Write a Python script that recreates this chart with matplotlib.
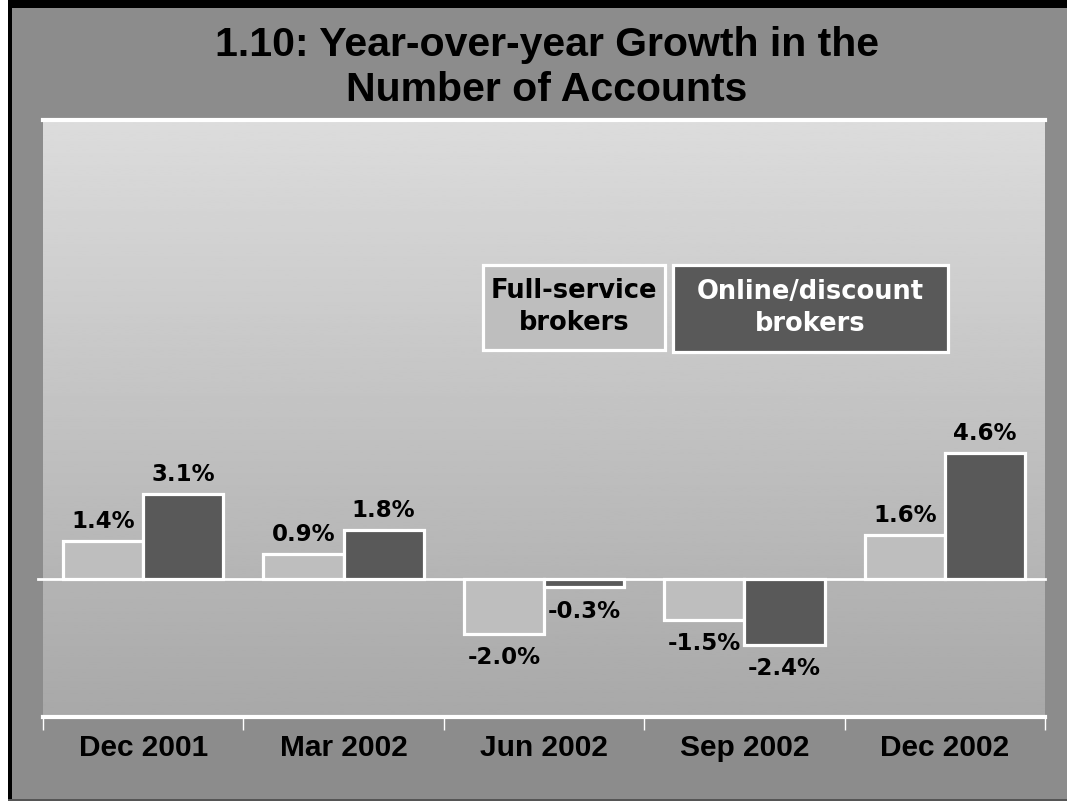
import numpy as np
import matplotlib
matplotlib.use("Agg")
import matplotlib.pyplot as plt
from matplotlib.patches import Rectangle

# quarterly year-over-year growth in account numbers (%)
quarters = ["Dec 2001", "Mar 2002", "Jun 2002", "Sep 2002", "Dec 2002"]
full_service = [1.4, 0.9, -2.0, -1.5, 1.6]
online_discount = [3.1, 1.8, -0.3, -2.4, 4.6]
series_names = ["Full-service\nbrokers", "Online/discount\nbrokers"]
title_lines = ["1.10: Year-over-year Growth in the", "Number of Accounts"]

BG = "#8c8c8c"
LIGHT = "#bebebe"
DARK = "#595959"
NARROW = ["Liberation Sans", "DejaVu Sans"]
WIDE = ["DejaVu Sans"]

W, H = 1067, 801
fig = plt.figure(figsize=(W / 100, H / 100), dpi=100, facecolor=BG)

# frame around the slide
fig.patches.append(Rectangle((0, 0), 8 / W, 1, transform=fig.transFigure,
                             facecolor="white", edgecolor="none", zorder=0))
fig.patches.append(Rectangle((8 / W, 0), 4 / W, 1, transform=fig.transFigure,
                             facecolor="black", edgecolor="none", zorder=0))
fig.patches.append(Rectangle((8 / W, 1 - 8 / H), 1, 8 / H, transform=fig.transFigure,
                             facecolor="black", edgecolor="none", zorder=0))
fig.patches.append(Rectangle((8 / W, 0), 1, 2 / H, transform=fig.transFigure,
                             facecolor="#555555", edgecolor="none", zorder=0))

fig.text(547 / W, 1 - 45 / H, title_lines[0], ha="center", va="center",
         fontsize=29.5, fontweight="bold", family=NARROW)
fig.text(547 / W, 1 - 90 / H, title_lines[1], ha="center", va="center",
         fontsize=29.5, fontweight="bold", family=NARROW)

ax = fig.add_axes([43 / W, 84 / H, (1045 - 43) / W, (717 - 120) / H])
ymin, ymax = -5.05, 16.8
ax.set_xlim(-0.5, len(quarters) - 0.5)
ax.set_ylim(ymin, ymax)

# vertical grey gradient behind the bars
grad = np.linspace(0.863, 0.66, 256).reshape(-1, 1)
ax.imshow(grad, cmap="gray", vmin=0, vmax=1, aspect="auto",
          extent=(-0.5, len(quarters) - 0.5, ymin, ymax), origin="upper", zorder=0)

x = np.arange(len(quarters))
w = 0.4
ax.axhline(0, color="white", lw=2, xmin=-0.005, clip_on=False, zorder=1)
b1 = ax.bar(x - w / 2, full_service, w, color=LIGHT, edgecolor="white",
            linewidth=2.3, zorder=2)
b2 = ax.bar(x + w / 2, online_discount, w, color=DARK, edgecolor="white",
            linewidth=2.3, zorder=2)

for bars, vals in ((b1, full_service), (b2, online_discount)):
    for bar, v in zip(bars, vals):
        cx = bar.get_x() + bar.get_width() / 2
        off = 0.3 if v >= 0 else -0.45
        ax.text(cx, v + off, f"{v:.1f}%", ha="center",
                va="bottom" if v >= 0 else "top",
                fontsize=16.5, fontweight="bold", family=WIDE, zorder=3)

# legend: two labelled boxes
legend_boxes = [
    (0.439, 0.615, 0.182, 0.142, LIGHT, "black", 0.530, 0.687),
    (0.629, 0.611, 0.274, 0.146, DARK, "white", 0.7655, 0.685),
]
for name, (x0, y0, bw, bh, fc, tc, tx, ty) in zip(series_names, legend_boxes):
    ax.add_patch(Rectangle((x0, y0), bw, bh, transform=ax.transAxes,
                           facecolor=fc, edgecolor="white", lw=2.3, zorder=4))
    ax.text(tx, ty, name, transform=ax.transAxes, ha="center", va="center",
            fontsize=18.5, fontweight="bold", family=WIDE, color=tc,
            linespacing=1.3, zorder=5)

for side in ("left", "right"):
    ax.spines[side].set_visible(False)
for side in ("top", "bottom"):
    ax.spines[side].set_color("white")
    ax.spines[side].set_linewidth(3)

ax.set_yticks([])
ax.set_xticks(x)
ax.set_xticklabels(quarters, fontsize=21.5, fontweight="bold", family=NARROW)
ax.tick_params(axis="x", which="major", length=0, pad=12)
ax.set_xticks(np.arange(-0.5, len(quarters)), minor=True)
ax.tick_params(axis="x", which="minor", length=9, width=1, color="white", direction="out")

fig.savefig("out.png", dpi=100, facecolor=BG)
